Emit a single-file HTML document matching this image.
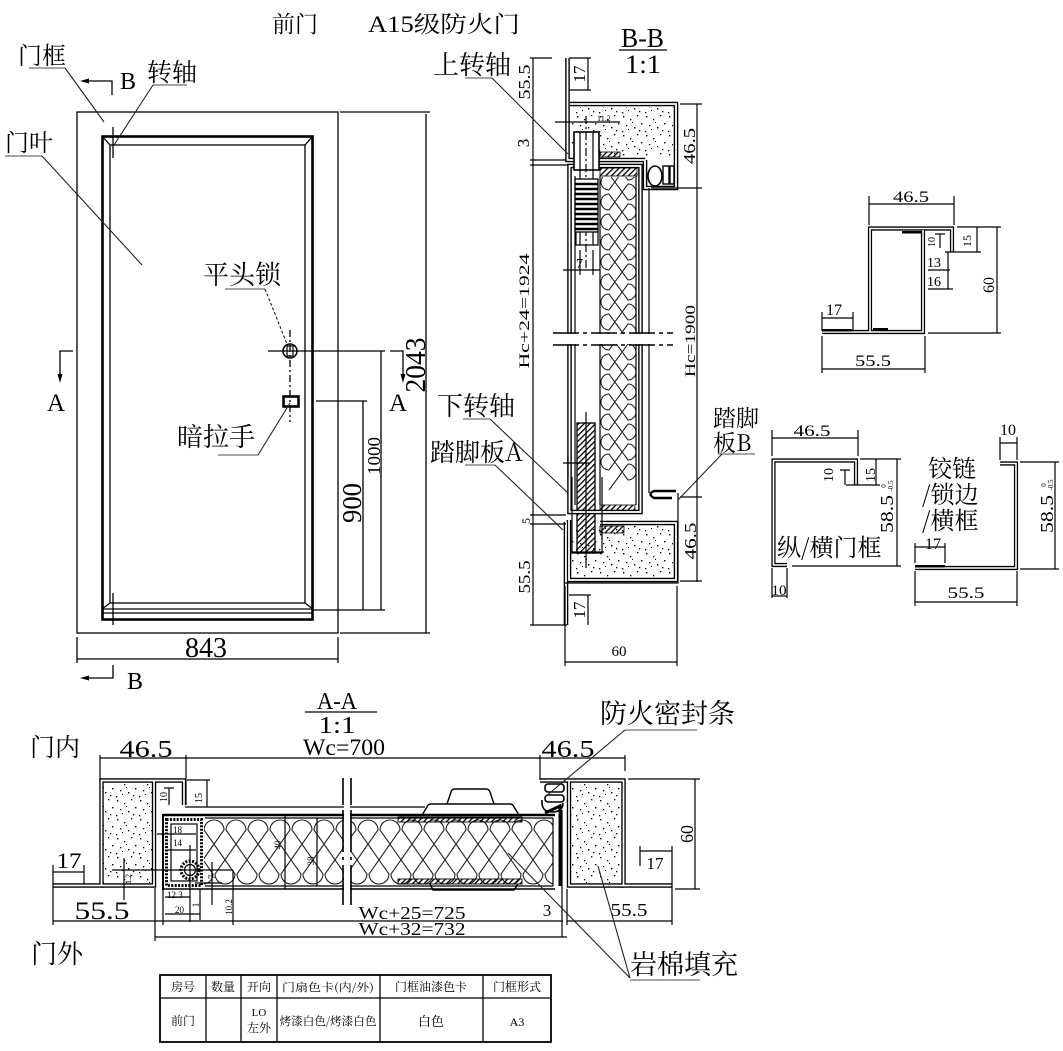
<!DOCTYPE html>
<html><head><meta charset="utf-8">
<style>
html,body{margin:0;padding:0;background:#fff;}
svg{display:block;}
text{font-family:"Liberation Serif","Noto Serif CJK SC",serif;fill:#000;}
.cj{font-family:"Noto Serif CJK SC","Liberation Serif",serif;}
</style></head><body>
<svg width="1063" height="1051" viewBox="0 0 1063 1051" xmlns="http://www.w3.org/2000/svg">
<defs>
<pattern id="dots" width="23" height="19" patternUnits="userSpaceOnUse">
<g fill="#000">
<rect x="2" y="2" width="1.4" height="1.4"/><rect x="9" y="5" width="1.3" height="1.3"/>
<rect x="16" y="1" width="1.3" height="1.3"/><rect x="20" y="9" width="1.4" height="1.4"/>
<rect x="5" y="11" width="1.3" height="1.3"/><rect x="13" y="13" width="1.4" height="1.4"/>
<rect x="18" y="16" width="1.3" height="1.3"/><rect x="1" y="17" width="1.3" height="1.3"/>
<rect x="11" y="8" width="1" height="1"/><rect x="7" y="15" width="1" height="1"/>
</g>
</pattern>
<pattern id="hatch" width="4" height="4" patternUnits="userSpaceOnUse" patternTransform="rotate(45)">
<rect x="0" y="0" width="1.3" height="4" fill="#000"/>
</pattern>
<clipPath id="cA"><rect x="204" y="816" width="349" height="72"/></clipPath>
<clipPath id="cB"><rect x="600" y="177" width="37" height="329"/></clipPath>
</defs>
<rect width="1063" height="1051" fill="#fff"/>

<!-- TITLE -->
<text x="272" y="32" font-size="23" class="cj">前门</text>
<text x="368" y="32" font-size="23" textLength="152" lengthAdjust="spacingAndGlyphs">A15级防火门</text>

<!-- ================= FRONT ELEVATION ================= -->
<g fill="none" stroke="#000" stroke-width="1.3">
 <rect x="77" y="112" width="261" height="521"/>
 <line x1="340" y1="112" x2="430" y2="112"/>
 <line x1="340" y1="633" x2="430" y2="633"/>
 <line x1="426" y1="114" x2="426" y2="633"/>
 <rect x="102.5" y="136.5" width="210" height="483" stroke-width="2.6"/>
 <rect x="110" y="145" width="195" height="458"/>
 <line x1="102" y1="609" x2="313" y2="609"/>
 <line x1="102" y1="613" x2="313" y2="613"/>
 <line x1="102" y1="136" x2="110" y2="145"/>
 <line x1="313" y1="136" x2="305" y2="145"/>
 <line x1="102" y1="609" x2="110" y2="603"/>
 <line x1="313" y1="609" x2="305" y2="603"/>
 <line x1="113" y1="127" x2="113" y2="158"/>
 <line x1="113" y1="593" x2="113" y2="625"/>
 <!-- 843 -->
 <line x1="77" y1="637" x2="77" y2="663"/>
 <line x1="338" y1="637" x2="338" y2="663"/>
 <line x1="77" y1="659" x2="338" y2="659"/>
 <!-- section marks -->
 <polyline points="86,81 112,81 112,95"/>
 <polyline points="86,678 113,678 113,665"/>
 <polyline points="73,351 60,351 60,376"/>
 <polyline points="390,351 403,351 403,376"/>
 <!-- lock -->
 <line x1="268" y1="351" x2="385" y2="351"/>
 <circle cx="290" cy="351" r="7" stroke-width="1.5"/>
 <rect x="287" y="346" width="6" height="10" stroke-width="1.2"/>
 <line x1="290" y1="330" x2="290" y2="422" stroke-dasharray="7 3 2 3"/>
 <rect x="283.5" y="396.5" width="15" height="10" stroke-width="2.6"/>
 <line x1="316" y1="401" x2="367" y2="401"/>
 <line x1="381" y1="351" x2="381" y2="610"/>
 <line x1="363" y1="401" x2="363" y2="610"/>
 <line x1="313" y1="610" x2="385" y2="610"/>
</g>
<g fill="#000">
 <polygon points="80,81 89,78.5 89,83.5"/>
 <polygon points="80,678 89,675.5 89,680.5"/>
 <polygon points="60,383 57.5,374 62.5,374"/>
 <polygon points="403,383 400.5,374 405.5,374"/>
</g>
<text x="206" y="657" font-size="28" text-anchor="middle" textLength="42" lengthAdjust="spacingAndGlyphs">843</text>
<text transform="translate(425,365) rotate(-90)" font-size="28" text-anchor="middle" textLength="55" lengthAdjust="spacingAndGlyphs">2043</text>
<text transform="translate(380,456) rotate(-90)" font-size="18" text-anchor="middle" textLength="38" lengthAdjust="spacingAndGlyphs">1000</text>
<text transform="translate(361,503) rotate(-90)" font-size="27" text-anchor="middle" textLength="40" lengthAdjust="spacingAndGlyphs">900</text>
<text x="120" y="89" font-size="24">B</text>
<text x="127" y="689" font-size="24">B</text>
<text x="47" y="411" font-size="25">A</text>
<text x="389" y="411" font-size="25">A</text>

<!-- labels front -->
<g stroke="#888" stroke-width="1.4">
 <line x1="29" y1="68" x2="65" y2="68"/>
 <line x1="153" y1="85" x2="187" y2="85"/>
 <line x1="5" y1="156" x2="42" y2="156"/>
 <line x1="225" y1="289" x2="265" y2="289"/>
 <line x1="218" y1="455" x2="258" y2="455"/>
</g>
<g stroke="#222" stroke-width="1.1">
 <line x1="65" y1="68" x2="104" y2="122"/>
 <line x1="153" y1="85" x2="114" y2="145"/>
 <line x1="42" y1="156" x2="142" y2="265"/>
 <line x1="265" y1="289" x2="287" y2="344" stroke-dasharray="3 2"/>
 <line x1="258" y1="455" x2="290" y2="403"/>
</g>
<text x="18" y="64" font-size="24" class="cj">门框</text>
<text x="147" y="81" font-size="25" class="cj">转轴</text>
<text x="5" y="151" font-size="24" class="cj">门叶</text>
<text x="203" y="284" font-size="26" class="cj">平头锁</text>
<text x="177" y="446" font-size="26" class="cj">暗拉手</text>

<!-- ================= B-B SECTION ================= -->
<text x="621" y="47" font-size="27" textLength="43" lengthAdjust="spacingAndGlyphs">B-B</text>
<line x1="619" y1="50" x2="667" y2="50" stroke="#000" stroke-width="1.3"/>
<text x="625" y="73" font-size="26" textLength="36" lengthAdjust="spacingAndGlyphs">1:1</text>

<!-- dotted fills -->
<rect x="572" y="107" width="101" height="50" fill="url(#dots)"/>
<rect x="572" y="526" width="101" height="52" fill="url(#dots)"/>
<!-- insulation B -->
<path clip-path="url(#cB)" fill="none" stroke="#222" stroke-width="1.1" d="M609,150 a8,8 0 0 1 0,-16 l19,26 a8,8 0 0 0 0,-16 l-19,26 a8,8 0 0 1 0,-16 l19,26 a8,8 0 0 0 0,-16 l-19,26 a8,8 0 0 1 0,-16 l19,26 a8,8 0 0 0 0,-16 l-19,26 a8,8 0 0 1 0,-16 l19,26 a8,8 0 0 0 0,-16 l-19,26 a8,8 0 0 1 0,-16 l19,26 a8,8 0 0 0 0,-16 l-19,26 a8,8 0 0 1 0,-16 l19,26 a8,8 0 0 0 0,-16 l-19,26 a8,8 0 0 1 0,-16 l19,26 a8,8 0 0 0 0,-16 l-19,26 a8,8 0 0 1 0,-16 l19,26 a8,8 0 0 0 0,-16 l-19,26 a8,8 0 0 1 0,-16 l19,26 a8,8 0 0 0 0,-16 l-19,26 a8,8 0 0 1 0,-16 l19,26 a8,8 0 0 0 0,-16 l-19,26 a8,8 0 0 1 0,-16 l19,26 a8,8 0 0 0 0,-16 l-19,26 a8,8 0 0 1 0,-16 l19,26 a8,8 0 0 0 0,-16 l-19,26 a8,8 0 0 1 0,-16 l19,26 a8,8 0 0 0 0,-16 l-19,26 a8,8 0 0 1 0,-16 l19,26 a8,8 0 0 0 0,-16 l-19,26 a8,8 0 0 1 0,-16 l19,26 a8,8 0 0 0 0,-16 l-19,26 a8,8 0 0 1 0,-16 l19,26 a8,8 0 0 0 0,-16 l-19,26 a8,8 0 0 1 0,-16 l19,26 a8,8 0 0 0 0,-16 l-19,26"/>

<!-- hatched strips B -->
<g stroke="#000" stroke-width="0.8">
 <rect x="600" y="168" width="37" height="8" fill="url(#hatch)"/>
 <rect x="600" y="505" width="35" height="6" fill="url(#hatch)"/>
 <rect x="600" y="152" width="20" height="5" fill="url(#hatch)"/>
 <rect x="600" y="526" width="24" height="7" fill="url(#hatch)"/>
 <rect x="577" y="423" width="18" height="130" fill="url(#hatch)" stroke-width="1.3"/>
</g>

<!-- double-line sheet metal B -->
<g fill="none" stroke="#000" stroke-width="4.6" stroke-linejoin="miter">
 <path d="M567.5,58 V160 H645"/>
 <path d="M570,104 H676 V188 H645 V160"/>
 <rect x="569.5" y="166" width="71" height="346"/>
 <path d="M600,523 H676 V580 H569 V520"/>
 <path d="M566,522 V625"/>
</g>
<g fill="none" stroke="#fff" stroke-width="1.8" stroke-linejoin="miter">
 <path d="M567.5,58 V160 H645"/>
 <path d="M570,104 H676 V188 H645 V160"/>
 <rect x="569.5" y="166" width="71" height="346"/>
 <path d="M600,523 H676 V580 H569 V520"/>
 <path d="M566,522 V625"/>
</g>

<g fill="none" stroke="#000" stroke-width="1.2">
 <!-- left dims -->
 <line x1="533" y1="58" x2="533" y2="625"/>
 <line x1="530" y1="58" x2="552" y2="58"/>
 <line x1="530" y1="160" x2="566" y2="160"/>
 <line x1="530" y1="165" x2="568" y2="165"/>
 <line x1="530" y1="515" x2="566" y2="515"/>
 <line x1="530" y1="524" x2="566" y2="524"/>
 <line x1="530" y1="625" x2="567" y2="625"/>
 <!-- 17 boxes -->
 <line x1="569" y1="58" x2="591" y2="58"/>
 <line x1="569" y1="90" x2="591" y2="90"/>
 <line x1="588" y1="58" x2="588" y2="90"/>
 <line x1="569" y1="595" x2="591" y2="595"/>
 <line x1="588" y1="595" x2="588" y2="625"/>
 <!-- hinge -->
 <rect x="574" y="132" width="25" height="38" fill="#fff" stroke-width="1.6"/>
 <line x1="580" y1="132" x2="580" y2="245"/>
 <line x1="593" y1="132" x2="593" y2="245"/>
 <path d="M576,232 V245 H598 V232" />
 <line x1="586" y1="116" x2="586" y2="268" stroke-dasharray="8 3 2 3"/>
 <line x1="555" y1="122" x2="620" y2="122"/>
 <line x1="563" y1="270" x2="600" y2="270"/>
 <line x1="580" y1="250" x2="580" y2="275"/>
 <line x1="593" y1="250" x2="593" y2="275"/>
 <!-- inner leaf -->
 <line x1="575" y1="176" x2="575" y2="505"/>
 <line x1="600" y1="176" x2="600" y2="505"/>
 <line x1="636" y1="176" x2="636" y2="505"/>
 <line x1="649" y1="188" x2="649" y2="493"/>
 <!-- seal -->
 <ellipse cx="655" cy="176" rx="7" ry="10" stroke-width="1.6"/>
 <rect x="663" y="166" width="6" height="18" stroke-width="1.4"/>
 <rect x="670" y="166" width="4" height="18" stroke-width="1.4"/>
 <!-- lower pivot -->
 <path d="M572,477 V553 H602 V477"/>
 <line x1="586" y1="412" x2="586" y2="568"/>
 <line x1="563" y1="463" x2="590" y2="463"/>
 <line x1="568" y1="456" x2="568" y2="478"/>
 <line x1="570" y1="552" x2="604" y2="552"/>
 <!-- sill outer -->
 <path d="M678,493 V583 H565"/>
 <path d="M676,491 H654 Q647,494 654,498 H672" stroke-width="2.4"/>
 <!-- right dims -->
 <line x1="697" y1="104" x2="697" y2="582"/>
 <line x1="680" y1="104" x2="702" y2="104"/>
 <line x1="651" y1="188" x2="702" y2="188"/>
 <line x1="680" y1="497" x2="702" y2="497"/>
 <line x1="680" y1="581" x2="702" y2="581"/>
 <!-- 60 -->
 <line x1="565" y1="586" x2="565" y2="666"/>
 <line x1="677" y1="586" x2="677" y2="666"/>
 <line x1="565" y1="662" x2="677" y2="662"/>
</g>
<!-- spring -->
<rect x="575" y="179" width="23" height="53" fill="#fff" stroke="#000" stroke-width="1.3"/>
<g stroke="#000" stroke-width="2.6">
 <line x1="575" y1="184" x2="598" y2="184"/><line x1="575" y1="189" x2="598" y2="189"/>
 <line x1="575" y1="194" x2="598" y2="194"/><line x1="575" y1="199" x2="598" y2="199"/>
 <line x1="575" y1="204" x2="598" y2="204"/><line x1="575" y1="209" x2="598" y2="209"/>
 <line x1="575" y1="214" x2="598" y2="214"/><line x1="575" y1="219" x2="598" y2="219"/>
 <line x1="575" y1="224" x2="598" y2="224"/><line x1="575" y1="229" x2="598" y2="229"/>
</g>
<!-- break -->
<rect x="540" y="334" width="150" height="10" fill="#fff"/>
<g stroke="#000" stroke-width="1.6" stroke-dasharray="26 4 4 4">
 <line x1="553" y1="333" x2="673" y2="333"/>
 <line x1="553" y1="345" x2="673" y2="345"/>
</g>
<!-- B-B texts -->
<text x="597" y="121" font-size="8">11.2</text>
<text x="576" y="268" font-size="14">7</text>
<text transform="translate(530,82) rotate(-90)" font-size="17" text-anchor="middle" textLength="35" lengthAdjust="spacingAndGlyphs">55.5</text>
<text transform="translate(529,143) rotate(-90)" font-size="17" text-anchor="middle">3</text>
<text transform="translate(529,311) rotate(-90)" font-size="15" text-anchor="middle" textLength="115" lengthAdjust="spacingAndGlyphs">Hc+24=1924</text>
<text transform="translate(530,521) rotate(-90)" font-size="12" text-anchor="middle">5</text>
<text transform="translate(530,577) rotate(-90)" font-size="17" text-anchor="middle" textLength="33" lengthAdjust="spacingAndGlyphs">55.5</text>
<text transform="translate(585,74) rotate(-90)" font-size="17" text-anchor="middle">17</text>
<text transform="translate(585,610) rotate(-90)" font-size="17" text-anchor="middle">17</text>
<text transform="translate(695,146) rotate(-90)" font-size="17" text-anchor="middle" textLength="36" lengthAdjust="spacingAndGlyphs">46.5</text>
<text transform="translate(695,341) rotate(-90)" font-size="15" text-anchor="middle" textLength="72" lengthAdjust="spacingAndGlyphs">Hc=1900</text>
<text transform="translate(696,541) rotate(-90)" font-size="17" text-anchor="middle" textLength="37" lengthAdjust="spacingAndGlyphs">46.5</text>
<text x="619" y="656" font-size="15" text-anchor="middle">60</text>

<!-- B-B labels -->
<g stroke="#888" stroke-width="1.4">
 <line x1="465" y1="78" x2="492" y2="78"/>
 <line x1="463" y1="419" x2="490" y2="419"/>
 <line x1="465" y1="465" x2="495" y2="465"/>
 <line x1="718" y1="454" x2="755" y2="454"/>
</g>
<g stroke="#222" stroke-width="1.1">
 <line x1="492" y1="78" x2="568" y2="154"/>
 <line x1="490" y1="419" x2="568" y2="493"/>
 <line x1="495" y1="465" x2="563" y2="530"/>
 <line x1="722" y1="454" x2="678" y2="500"/>
</g>
<text x="433" y="74" font-size="26" class="cj">上转轴</text>
<text x="437" y="415" font-size="26" class="cj">下转轴</text>
<text x="430" y="461" font-size="25" class="cj">踏脚板A</text>
<text x="713" y="426" font-size="23" class="cj">踏脚</text>
<text x="713" y="451" font-size="23" class="cj">板B</text>

<!-- ================= PROFILES RIGHT ================= -->
<g fill="none" stroke="#000" stroke-width="4.2" stroke-linejoin="miter">
 <path d="M822,332 H923 V230"/>
 <path d="M870,332 V228.5 H952 V252"/>
 <path d="M787,565 H773.5 V460.5 H856 V485"/>
 <path d="M1000,463.5 H1016 V568 H915"/>
</g>
<g fill="none" stroke="#fff" stroke-width="1.6" stroke-linejoin="miter">
 <path d="M822,332 H923 V230"/>
 <path d="M870,332 V228.5 H952 V252"/>
 <path d="M787,565 H773.5 V460.5 H856 V485"/>
 <path d="M1000,463.5 H1016 V568 H915"/>
</g>
<g fill="#000">
 <rect x="902" y="231" width="19" height="2.5"/>
 <rect x="873" y="328" width="15" height="2.5"/>
 <rect x="822" y="329" width="30" height="2.5"/>
 <rect x="915" y="565" width="30" height="2.5"/>
</g>
<g fill="none" stroke="#000" stroke-width="1.2">
 <!-- profile 1 -->
 <line x1="869" y1="196" x2="869" y2="225"/>
 <line x1="954" y1="196" x2="954" y2="225"/>
 <line x1="869" y1="204" x2="954" y2="204"/>
 <line x1="957" y1="227" x2="1001" y2="227"/>
 <line x1="928" y1="333" x2="1001" y2="333"/>
 <line x1="997" y1="227" x2="997" y2="333"/>
 <line x1="945" y1="252" x2="981" y2="252"/>
 <line x1="977" y1="227" x2="977" y2="252"/>
 <line x1="940" y1="234" x2="940" y2="248"/>
 <line x1="935" y1="234" x2="945" y2="234"/>
 <line x1="928" y1="270" x2="950" y2="270"/>
 <line x1="928" y1="289" x2="953" y2="289"/>
 <line x1="948" y1="252" x2="948" y2="289"/>
 <line x1="822" y1="312" x2="822" y2="331"/>
 <line x1="853" y1="312" x2="853" y2="331"/>
 <line x1="822" y1="318" x2="853" y2="318"/>
 <line x1="822" y1="336" x2="822" y2="373"/>
 <line x1="925" y1="336" x2="925" y2="373"/>
 <line x1="822" y1="369" x2="925" y2="369"/>
 <!-- profile 2 -->
 <line x1="772" y1="430" x2="772" y2="456"/>
 <line x1="858" y1="430" x2="858" y2="456"/>
 <line x1="772" y1="438" x2="858" y2="438"/>
 <line x1="792" y1="566" x2="901" y2="566"/>
 <line x1="860" y1="459" x2="901" y2="459"/>
 <line x1="897" y1="459" x2="897" y2="566"/>
 <line x1="876" y1="459" x2="876" y2="485"/>
 <line x1="846" y1="485" x2="880" y2="485"/>
 <line x1="845" y1="470" x2="845" y2="485"/>
 <line x1="840" y1="470" x2="850" y2="470"/>
 <line x1="772" y1="568" x2="772" y2="598"/>
 <line x1="787" y1="568" x2="787" y2="598"/>
 <line x1="772" y1="596" x2="787" y2="596"/>
 <!-- profile 3 -->
 <line x1="1000" y1="437" x2="1000" y2="460"/>
 <line x1="1017" y1="437" x2="1017" y2="460"/>
 <line x1="1000" y1="443" x2="1017" y2="443"/>
 <line x1="1020" y1="462" x2="1059" y2="462"/>
 <line x1="1020" y1="569" x2="1059" y2="569"/>
 <line x1="1055" y1="462" x2="1055" y2="569"/>
 <line x1="915" y1="543" x2="915" y2="563"/>
 <line x1="945" y1="543" x2="945" y2="563"/>
 <line x1="915" y1="547" x2="945" y2="547"/>
 <line x1="915" y1="571" x2="915" y2="606"/>
 <line x1="1017" y1="571" x2="1017" y2="606"/>
 <line x1="915" y1="602" x2="1017" y2="602"/>
</g>
<text x="911" y="202" font-size="16" text-anchor="middle" textLength="36" lengthAdjust="spacingAndGlyphs">46.5</text>
<text x="873" y="366" font-size="16" text-anchor="middle" textLength="36" lengthAdjust="spacingAndGlyphs">55.5</text>
<text x="834" y="315" font-size="16" text-anchor="middle">17</text>
<text transform="translate(994,285) rotate(-90)" font-size="16" text-anchor="middle">60</text>
<text transform="translate(935,242) rotate(-90)" font-size="10" text-anchor="middle">10</text>
<text transform="translate(971,241) rotate(-90)" font-size="12" text-anchor="middle">15</text>
<text x="927" y="267" font-size="14">13</text>
<text x="927" y="286" font-size="14">16</text>

<text x="812" y="436" font-size="16" text-anchor="middle" textLength="37" lengthAdjust="spacingAndGlyphs">46.5</text>
<text transform="translate(833,475) rotate(-90)" font-size="14" text-anchor="middle">10</text>
<text transform="translate(875,475) rotate(-90)" font-size="14" text-anchor="middle">15</text>
<text transform="translate(893,514) rotate(-90)" font-size="18" text-anchor="middle" textLength="38" lengthAdjust="spacingAndGlyphs">58.5</text>
<text transform="translate(893,486) rotate(-90)" font-size="7" text-anchor="middle">-0.5</text>
<text transform="translate(886,486) rotate(-90)" font-size="7" text-anchor="middle">0</text>
<text x="779" y="595" font-size="15" text-anchor="middle">10</text>
<text x="777" y="556" font-size="24" class="cj">纵/横门框</text>

<text x="1008" y="435" font-size="16" text-anchor="middle">10</text>
<text transform="translate(1053,514) rotate(-90)" font-size="18" text-anchor="middle" textLength="38" lengthAdjust="spacingAndGlyphs">58.5</text>
<text transform="translate(1053,485) rotate(-90)" font-size="7" text-anchor="middle">-0.5</text>
<text transform="translate(1046,485) rotate(-90)" font-size="7" text-anchor="middle">0</text>
<text x="933" y="549" font-size="16" text-anchor="middle">17</text>
<text x="966" y="598" font-size="16" text-anchor="middle" textLength="37" lengthAdjust="spacingAndGlyphs">55.5</text>
<text x="928" y="477" font-size="24" class="cj">铰链</text>
<text x="922" y="503" font-size="24" class="cj">/锁边</text>
<text x="922" y="529" font-size="24" class="cj">/横框</text>

<!-- ================= A-A SECTION ================= -->
<text x="337" y="709" font-size="24" text-anchor="middle" textLength="40" lengthAdjust="spacingAndGlyphs">A-A</text>
<line x1="305" y1="712" x2="377" y2="712" stroke="#000" stroke-width="1.3"/>
<text x="337" y="733" font-size="24" text-anchor="middle" textLength="37" lengthAdjust="spacingAndGlyphs">1:1</text>
<text x="344" y="755" font-size="23" text-anchor="middle" textLength="82" lengthAdjust="spacingAndGlyphs">Wc=700</text>
<text x="30" y="756" font-size="25" class="cj">门内</text>
<text x="31" y="963" font-size="26" class="cj">门外</text>
<text x="146" y="757" font-size="24" text-anchor="middle" textLength="53" lengthAdjust="spacingAndGlyphs">46.5</text>
<text x="568" y="757" font-size="24" text-anchor="middle" textLength="53" lengthAdjust="spacingAndGlyphs">46.5</text>

<!-- fills -->
<rect x="103" y="783" width="49" height="100" fill="url(#dots)"/>
<rect x="571" y="782" width="51" height="101" fill="url(#dots)"/>
<path clip-path="url(#cA)" fill="none" stroke="#222" stroke-width="1.1" d="M180,830 a10,10 0 0 0 -20,0 l31,44 a10,10 0 0 1 -20,0 l31,-44 a10,10 0 0 0 -20,0 l31,44 a10,10 0 0 1 -20,0 l31,-44 a10,10 0 0 0 -20,0 l31,44 a10,10 0 0 1 -20,0 l31,-44 a10,10 0 0 0 -20,0 l31,44 a10,10 0 0 1 -20,0 l31,-44 a10,10 0 0 0 -20,0 l31,44 a10,10 0 0 1 -20,0 l31,-44 a10,10 0 0 0 -20,0 l31,44 a10,10 0 0 1 -20,0 l31,-44 a10,10 0 0 0 -20,0 l31,44 a10,10 0 0 1 -20,0 l31,-44 a10,10 0 0 0 -20,0 l31,44 a10,10 0 0 1 -20,0 l31,-44 a10,10 0 0 0 -20,0 l31,44 a10,10 0 0 1 -20,0 l31,-44 a10,10 0 0 0 -20,0 l31,44 a10,10 0 0 1 -20,0 l31,-44 a10,10 0 0 0 -20,0 l31,44 a10,10 0 0 1 -20,0 l31,-44 a10,10 0 0 0 -20,0 l31,44 a10,10 0 0 1 -20,0 l31,-44 a10,10 0 0 0 -20,0 l31,44 a10,10 0 0 1 -20,0 l31,-44 a10,10 0 0 0 -20,0 l31,44 a10,10 0 0 1 -20,0 l31,-44 a10,10 0 0 0 -20,0 l31,44 a10,10 0 0 1 -20,0 l31,-44 a10,10 0 0 0 -20,0 l31,44 a10,10 0 0 1 -20,0 l31,-44 a10,10 0 0 0 -20,0 l31,44 a10,10 0 0 1 -20,0 l31,-44 a10,10 0 0 0 -20,0 l31,44 a10,10 0 0 1 -20,0 l31,-44"/>

<!-- frames double line -->
<g fill="none" stroke="#000" stroke-width="4.4" stroke-linejoin="miter">
 <path d="M53,885.5 H101.5 V780.5 H184 V805"/>
 <path d="M101.5,885.5 H154 V780.5"/>
 <path d="M540,780.5 H623.5 V885.5 H672"/>
 <path d="M569,780.5 V885.5 H623.5"/>
</g>
<g fill="none" stroke="#fff" stroke-width="1.7" stroke-linejoin="miter">
 <path d="M53,885.5 H101.5 V780.5 H184 V805"/>
 <path d="M101.5,885.5 H154 V780.5"/>
 <path d="M540,780.5 H623.5 V885.5 H672"/>
 <path d="M569,780.5 V885.5 H623.5"/>
</g>

<!-- handle hatch -->
<g stroke="#000" stroke-width="0.9">
 <rect x="398" y="817" width="124" height="5" fill="url(#hatch)"/>
 <rect x="398" y="879" width="124" height="5" fill="url(#hatch)"/>
</g>

<g fill="none" stroke="#000" stroke-width="1.2">
 <!-- leaf -->
 <line x1="163" y1="815" x2="555" y2="815" stroke-width="2.4"/>
 <line x1="163" y1="889" x2="555" y2="889" stroke-width="1.6"/>
 <line x1="163" y1="814" x2="163" y2="890" stroke-width="2"/>
 <line x1="205" y1="818" x2="553" y2="818"/>
 <line x1="205" y1="886" x2="553" y2="886"/>
 <line x1="553" y1="818" x2="553" y2="886"/>
 <line x1="285" y1="815" x2="285" y2="889"/>
 <line x1="317" y1="818" x2="317" y2="886"/>
 <line x1="185" y1="807" x2="425" y2="807"/>
 <!-- lock box -->
 <rect x="166.5" y="819.5" width="35" height="66" stroke-width="3" stroke-dasharray="2 1.4"/>
 <rect x="171" y="824" width="26" height="57"/>
 <circle cx="190" cy="870" r="9" stroke-width="3" stroke-dasharray="2 1.4"/>
 <circle cx="190" cy="870" r="5.5"/>
 <line x1="112" y1="870" x2="233" y2="870"/>
 <line x1="190" y1="845" x2="190" y2="922"/>
 <line x1="157" y1="834" x2="196" y2="834"/>
 <line x1="167" y1="850" x2="196" y2="850"/>
 <line x1="195" y1="883" x2="222" y2="883"/>
 <line x1="212" y1="862" x2="212" y2="905"/>
 <line x1="233" y1="870" x2="233" y2="925"/>
 <line x1="200" y1="889" x2="200" y2="920"/>
 <line x1="165" y1="897" x2="190" y2="897"/>
 <line x1="165" y1="914" x2="200" y2="914"/>
 <line x1="124" y1="858" x2="124" y2="900"/>
 <!-- left dims -->
 <line x1="100" y1="755" x2="100" y2="780"/>
 <line x1="186" y1="755" x2="186" y2="805"/>
 <line x1="100" y1="758" x2="540" y2="758"/>
 <line x1="540" y1="755" x2="540" y2="780"/>
 <line x1="625" y1="755" x2="625" y2="771"/>
 <line x1="540" y1="758" x2="625" y2="758"/>
 <line x1="187" y1="780" x2="210" y2="780"/>
 <line x1="207" y1="780" x2="207" y2="807"/>
 <line x1="169" y1="788" x2="169" y2="805"/>
 <line x1="164" y1="788" x2="174" y2="788"/>
 <line x1="53" y1="865" x2="53" y2="925"/>
 <line x1="84" y1="865" x2="84" y2="884"/>
 <line x1="53" y1="872" x2="84" y2="872"/>
 <line x1="155" y1="888" x2="155" y2="941"/>
 <line x1="163" y1="890" x2="163" y2="925"/>
 <line x1="53" y1="921" x2="563" y2="921"/>
 <line x1="155" y1="937" x2="567" y2="937"/>
 <!-- handle -->
 <path d="M422,815 L427,807 Q428,804 431,804 H510 Q513,804 514,807 L519,815" stroke-width="1.4"/>
 <path d="M447,804 L451,792 Q452,789 455,789 H486 Q489,789 490,792 L494,804" stroke-width="1.4"/>
 <path d="M430,884 L433,890 H514 L518,884" stroke-width="1.4"/>
 <!-- right -->
 <line x1="562" y1="810" x2="562" y2="937"/>
 <line x1="567" y1="889" x2="567" y2="925"/>
 <line x1="628" y1="779" x2="700" y2="779"/>
 <line x1="675" y1="889" x2="700" y2="889"/>
 <line x1="695" y1="779" x2="695" y2="889"/>
 <line x1="640" y1="846" x2="640" y2="866"/>
 <line x1="672" y1="846" x2="672" y2="925"/>
 <line x1="640" y1="851" x2="672" y2="851"/>
 <line x1="567" y1="921" x2="672" y2="921"/>
 <!-- seal -->
 <rect x="545" y="784" width="19" height="8" rx="3" stroke-width="1.6"/>
 <rect x="545" y="795" width="19" height="7" rx="3" stroke-width="1.6"/>
 <path d="M542,800 Q541,812 552,812 Q563,812 563,803" stroke-width="1.6"/>
</g>
<path d="M545,813 L560,806 V886" fill="none" stroke="#000" stroke-width="3"/>

<!-- break A-A -->
<rect x="344" y="780" width="6" height="125" fill="#fff"/>
<g stroke="#000" stroke-width="1.6" stroke-dasharray="27 5 42 5 3 5 45">
 <line x1="343" y1="778" x2="343" y2="905"/>
 <line x1="351" y1="778" x2="351" y2="905"/>
</g>

<!-- A-A small texts -->
<text transform="translate(167,797) rotate(-90)" font-size="10" text-anchor="middle">10</text>
<text transform="translate(202,798) rotate(-90)" font-size="10" text-anchor="middle">15</text>
<text x="173" y="833" font-size="9">18</text>
<text x="173" y="846" font-size="9">14</text>
<text x="167" y="898" font-size="9">12.3</text>
<text x="175" y="913" font-size="9">20</text>
<text transform="translate(232,907) rotate(-90)" font-size="9" text-anchor="middle">10.2</text>
<text transform="translate(215,877) rotate(-90)" font-size="9" text-anchor="middle">7</text>
<text transform="translate(199,905) rotate(-90)" font-size="9" text-anchor="middle">1</text>
<text transform="translate(131,879) rotate(-90)" font-size="8" text-anchor="middle">1.2</text>
<text transform="translate(281,845) rotate(-90)" font-size="9" text-anchor="middle">40</text>
<text transform="translate(314,861) rotate(-90)" font-size="9" text-anchor="middle">38</text>
<text x="69" y="868" font-size="22" text-anchor="middle" textLength="25" lengthAdjust="spacingAndGlyphs">17</text>
<text x="102" y="919" font-size="25" text-anchor="middle" textLength="55" lengthAdjust="spacingAndGlyphs">55.5</text>
<text x="412" y="919" font-size="18" text-anchor="middle" textLength="107" lengthAdjust="spacingAndGlyphs">Wc+25=725</text>
<text x="412" y="935" font-size="18" text-anchor="middle" textLength="107" lengthAdjust="spacingAndGlyphs">Wc+32=732</text>
<text x="547" y="916" font-size="17" text-anchor="middle">3</text>
<text x="629" y="916" font-size="18" text-anchor="middle" textLength="37" lengthAdjust="spacingAndGlyphs">55.5</text>
<text x="655" y="869" font-size="17" text-anchor="middle">17</text>
<text transform="translate(693,834) rotate(-90)" font-size="18" text-anchor="middle">60</text>

<!-- A-A labels -->
<g stroke="#888" stroke-width="1.4">
 <line x1="625" y1="730" x2="697" y2="730"/>
 <line x1="630" y1="980" x2="700" y2="980"/>
</g>
<g stroke="#222" stroke-width="1.1">
 <line x1="625" y1="730" x2="545" y2="797"/>
 <line x1="630" y1="978" x2="598" y2="866"/>
 <line x1="630" y1="978" x2="508" y2="853"/>
</g>
<text x="600" y="723" font-size="27" class="cj">防火密封条</text>
<text x="630" y="974" font-size="27" class="cj">岩棉填充</text>

<!-- ================= TABLE ================= -->
<g fill="none" stroke="#000">
 <rect x="160" y="975" width="391" height="67" stroke-width="1.8"/>
 <line x1="160" y1="998" x2="551" y2="998" stroke-width="1.3"/>
 <line x1="206" y1="975" x2="206" y2="1042" stroke-width="1.3"/>
 <line x1="241" y1="975" x2="241" y2="1042" stroke-width="1.3"/>
 <line x1="277" y1="975" x2="277" y2="1042" stroke-width="1.3"/>
 <line x1="380" y1="975" x2="380" y2="1042" stroke-width="1.3"/>
 <line x1="483" y1="975" x2="483" y2="1042" stroke-width="1.3"/>
</g>
<g class="cj" text-anchor="middle">
 <text x="183" y="991" font-size="12" class="cj">房号</text>
 <text x="223" y="991" font-size="12" class="cj">数量</text>
 <text x="259" y="991" font-size="12" class="cj">开向</text>
 <text x="328" y="991" font-size="11" class="cj" textLength="92" lengthAdjust="spacingAndGlyphs">门扇色卡(内/外)</text>
 <text x="431" y="991" font-size="12" class="cj">门框油漆色卡</text>
 <text x="517" y="991" font-size="12" class="cj">门框形式</text>
 <text x="183" y="1025" font-size="12" class="cj">前门</text>
 <text x="259" y="1016" font-size="11">LO</text>
 <text x="259" y="1032" font-size="12" class="cj">左外</text>
 <text x="328" y="1025" font-size="11.5" class="cj" textLength="97" lengthAdjust="spacingAndGlyphs">烤漆白色/烤漆白色</text>
 <text x="431" y="1026" font-size="13" class="cj">白色</text>
 <text x="517" y="1026" font-size="12">A3</text>
</g>
</svg>
</body></html>
